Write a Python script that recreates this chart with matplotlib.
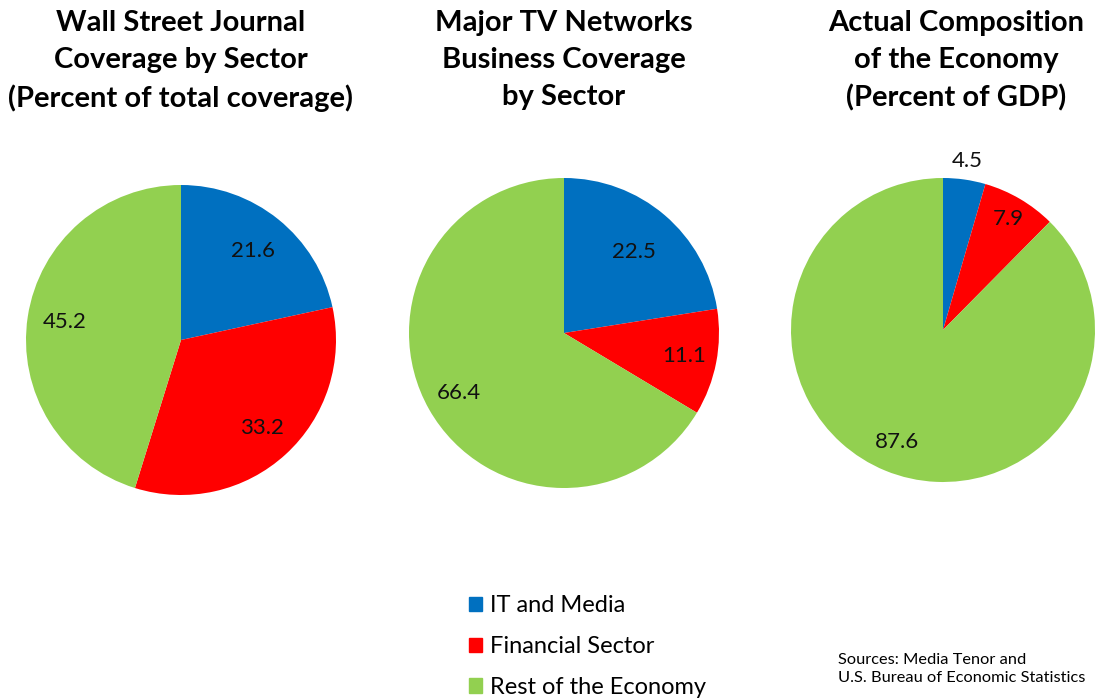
import matplotlib.pyplot as plt
from matplotlib.patches import Patch
import numpy as np

plt.rcParams['font.family'] = ['Lato', 'DejaVu Sans']

# data
sectors = ['IT and Media', 'Financial Sector', 'Rest of the Economy']
wsj = [21.6, 33.2, 45.2]
tv = [22.5, 11.1, 66.4]
gdp = [4.5, 7.9, 87.6]
titles = ['Wall Street Journal\nCoverage by Sector\n(Percent of total coverage)',
          'Major TV Networks\nBusiness Coverage\nby Sector',
          'Actual Composition\nof the Economy\n(Percent of GDP)']
colors = ['#0070C0', '#FF0000', '#92D050']

W, H = 1096, 698
fig = plt.figure(figsize=(W / 100, H / 100), dpi=100)

# pixel centers / radius of each pie, title center x, label distances
pies = [
    (wsj, (181, 340), 155, 181, [0.74, 0.77, 0.76]),
    (tv, (564, 333), 155, 564, [0.69, 0.79, 0.78]),
    (gdp, (943, 330), 152, 956, [1.12, 0.85, 0.80]),
]

for (vals, (cx, cy), r, tx, dists), title in zip(pies, titles):
    ax = fig.add_axes([(cx - r) / W, 1 - (cy + r) / H, 2 * r / W, 2 * r / H])
    wedges, _ = ax.pie(vals, colors=colors, startangle=90, counterclock=False,
                       radius=1, wedgeprops={'linewidth': 0})
    for w, v, d in zip(wedges, vals, dists):
        ang = np.deg2rad((w.theta1 + w.theta2) / 2)
        ax.text(d * np.cos(ang), d * np.sin(ang), f'{v:.1f}', ha='center', va='center',
                fontsize=16, color='#111111')
    ax.set_xlim(-1, 1)
    ax.set_ylim(-1, 1)
    ax.set_aspect('equal')
    ax.axis('off')
    fig.text(tx / W, 1 - 10 / H, title, ha='center', va='top', fontsize=21,
             fontweight='bold', linespacing=1.52)

handles = [Patch(color=c, label=s) for c, s in zip(colors, sectors)]
fig.legend(handles=handles, loc='upper left', bbox_to_anchor=(448 / W, 1 - 574 / H),
           frameon=False, fontsize=17, handlelength=0.55, handleheight=0.55,
           handletextpad=0.35, labelspacing=0.84)

fig.text(838 / W, 1 - 669 / H, 'Sources: Media Tenor and\nU.S. Bureau of Economic Statistics',
         ha='left', va='center', fontsize=11.8, linespacing=1.45)

fig.savefig('out.png', dpi=100)
